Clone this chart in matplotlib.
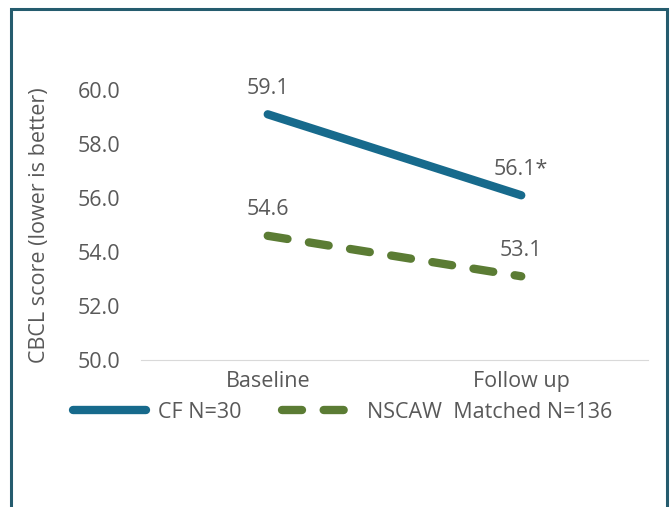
import matplotlib
matplotlib.use("Agg")
from matplotlib import pyplot as plt
from matplotlib.patches import Rectangle

plt.rcParams['font.family'] = ['Open Sans', 'DejaVu Sans']

categories = ["Baseline", "Follow up"]
cf_scores = [59.1, 56.1]
nscaw_scores = [54.6, 53.1]
cf_labels = ["59.1", "56.1*"]
nscaw_labels = ["54.6", "53.1"]
yticks = [50.0, 52.0, 54.0, 56.0, 58.0, 60.0]

text_color = "#595959"
blue = "#176a8c"
green = "#5b7c34"
fs = 15.5

fig = plt.figure(figsize=(6.7, 5.07), dpi=100)
ax = fig.add_axes([141 / 670, 1 - 360 / 507, 507 / 670, 270 / 507])

x = range(len(categories))
ax.plot(x, cf_scores, color=blue, lw=6, solid_capstyle="round", label="CF N=30", clip_on=False)
ax.plot(x, nscaw_scores, color=green, lw=6, dash_capstyle="round", dashes=(2.4, 2.6),
        label="NSCAW  Matched N=136", clip_on=False)

for i, (v, lab) in enumerate(zip(cf_scores, cf_labels)):
    ax.annotate(lab, (i, v), xytext=(0, 26), textcoords="offset pixels", ha="center",
                va="center", fontsize=fs, color=text_color)
for i, (v, lab) in enumerate(zip(nscaw_scores, nscaw_labels)):
    ax.annotate(lab, (i, v), xytext=(0, 26), textcoords="offset pixels", ha="center",
                va="center", fontsize=fs, color=text_color)

ax.set_xlim(-0.5, 1.5)
ax.set_ylim(50, 60)
ax.set_xticks(list(x))
ax.set_xticklabels(categories, fontsize=fs, color=text_color)
ax.set_yticks(yticks)
ax.set_yticklabels([f"{t:.1f}" for t in yticks], fontsize=fs, color=text_color)
ax.tick_params(length=0, pad=15)
ax.tick_params(axis="x", pad=8)
for s in ["top", "right", "left"]:
    ax.spines[s].set_visible(False)
ax.spines["bottom"].set_color("#d9d9d9")
ax.set_ylabel("CBCL score (lower is better)", fontsize=fs, color=text_color, labelpad=20)

leg = ax.legend(loc="center left", bbox_to_anchor=(-68 / 507, -52 / 270), ncol=2, frameon=False,
                fontsize=fs, labelcolor=text_color, handlelength=3.4, handletextpad=0.55,
                columnspacing=1.9, borderaxespad=0, borderpad=0)

fig.patches.append(Rectangle((11 / 670, -0.05), 656 / 670, 1.05 - 9 / 507, transform=fig.transFigure,
                             fill=False, edgecolor="#255c6e", lw=2.2))

fig.savefig("out.png", dpi=100)
